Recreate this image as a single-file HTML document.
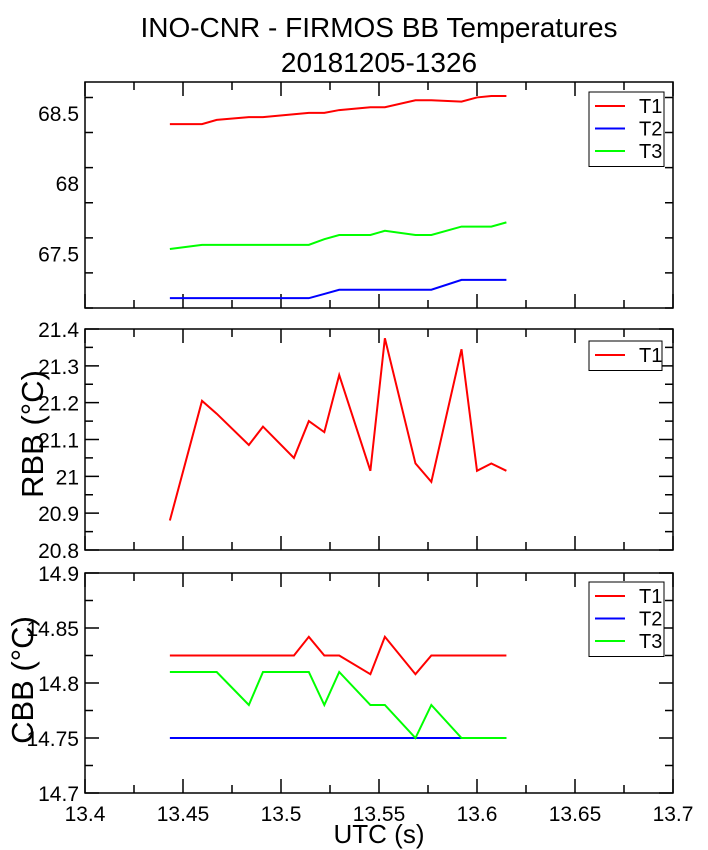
<!DOCTYPE html>
<html><head><meta charset="utf-8"><style>
body{margin:0;background:#fff}
svg{display:block;font-family:"Liberation Sans",sans-serif}
</style></head><body>
<svg id="c" width="708" height="850" xmlns="http://www.w3.org/2000/svg">
<text x="379" y="37" font-size="28" text-anchor="middle">INO-CNR - FIRMOS BB Temperatures</text>
<text x="379" y="72" font-size="28" text-anchor="middle">20181205-1326</text>
<text transform="translate(43,434) rotate(-90)" font-size="31" text-anchor="middle">RBB (°C)</text>
<text transform="translate(33,680) rotate(-90)" font-size="31" text-anchor="middle">CBB (°C)</text>
<text x="379" y="843" font-size="26" text-anchor="middle">UTC (s)</text>
</svg>
<script>
const times=[13.4433,13.4597,13.4672,13.4836,13.4908,13.5066,13.5142,13.5221,13.5297,13.5456,13.5530,13.5686,13.5767,13.5921,13.6,13.6073,13.615];
const bbT1=[68.42,68.42,68.45,68.47,68.47,68.49,68.50,68.50,68.52,68.54,68.54,68.59,68.59,68.58,68.61,68.62,68.62];
const bbT2=[67.18,67.18,67.18,67.18,67.18,67.18,67.18,67.21,67.24,67.24,67.24,67.24,67.24,67.31,67.31,67.31,67.31];
const bbT3=[67.53,67.56,67.56,67.56,67.56,67.56,67.56,67.60,67.63,67.63,67.66,67.63,67.63,67.69,67.69,67.69,67.72];
const rbbT1=[20.88,21.205,21.17,21.085,21.135,21.05,21.15,21.12,21.275,21.015,21.375,21.035,20.985,21.345,21.015,21.035,21.015];
const cbbT1=[14.825,14.825,14.825,14.825,14.825,14.825,14.842,14.825,14.825,14.808,14.842,14.808,14.825,14.825,14.825,14.825,14.825];
const cbbT2=[14.75,14.75,14.75,14.75,14.75,14.75,14.75,14.75,14.75,14.75,14.75,14.75,14.75,14.75,14.75,14.75,14.75];
const cbbT3=[14.81,14.81,14.81,14.78,14.81,14.81,14.81,14.78,14.81,14.78,14.78,14.75,14.78,14.75,14.75,14.75,14.75];
const xTicks=[13.4,13.45,13.5,13.55,13.6,13.65,13.7];
const bbTicks=[67.5,68,68.5];
const rbbTicks=[20.8,20.9,21,21.1,21.2,21.3,21.4];
const cbbTicks=[14.7,14.75,14.8,14.85,14.9];

const svg=document.getElementById('c');
const NS='http://www.w3.org/2000/svg';
const X0=85,X1=673,XMIN=13.4,XMAX=13.7;
const xs=v=>X0+(v-XMIN)/(XMAX-XMIN)*(X1-X0);
function mk(t,a){const e=document.createElementNS(NS,t);for(const k in a)e.setAttribute(k,a[k]);svg.appendChild(e);return e;}

function panel(name,top,bot,ymin,ymax,ticks,minorStep,series,legend,showX){
  const ys=v=>bot-(v-ymin)/(ymax-ymin)*(bot-top);
  const f=mk('rect',{x:X0,y:top,width:X1-X0,height:bot-top,fill:'none',stroke:'#000','stroke-width':1.5});
  
  
  let d='';
  for(let i=0;i<=12;i++){const v=XMIN+i*0.025,x=xs(v),L=i%2?8:14;d+=`M${x} ${bot}v${-L}M${x} ${top}v${L}`;}
  const n=Math.round((ymax-ymin)/minorStep);
  for(let i=0;i<=n;i++){const v=ymin+i*minorStep,y=ys(v);const maj=ticks.some(t=>Math.abs(t-v)<1e-6);const L=maj?14:8;d+=`M${X0} ${y}h${L}M${X1} ${y}h${-L}`;}
  const tk=mk('path',{d:d,stroke:'#000','stroke-width':1.5,fill:'none'});
  
  
  ticks.forEach(t=>{const e=mk('text',{x:79,y:ys(t)+8,'font-size':21,'text-anchor':'end'});e.textContent=String(t);
    
    });
  if(showX){xTicks.forEach(t=>{const e=mk('text',{x:xs(t),y:bot+28,'font-size':21,'text-anchor':'middle'});e.textContent=String(t);
    
    });}
  series.forEach(s=>{const p=mk('polyline',{points:times.map((t,i)=>xs(t)+','+ys(s.v[i])).join(' '),fill:'none',stroke:s.c,'stroke-width':2});
    
    });
  const lh=legend.length*22.5+7;
  const lb=mk('rect',{x:589,y:legend.top,width:legend.w,height:lh,fill:'#fff',stroke:'#000','stroke-width':1});
  
  
  series.forEach((s,i)=>{const y=legend.top+14+i*22.5;
    const l=mk('line',{x1:595,x2:625,y1:y,y2:y,stroke:s.c,'stroke-width':2});
    
    
    const t=mk('text',{x:639,y:y+7,'font-size':20});t.textContent=s.n;
    
    });
}
panel('bb-panel',82,308,67.11,68.72,bbTicks,0.25,[{n:'T1',c:'#f00',v:bbT1},{n:'T2',c:'#00f',v:bbT2},{n:'T3',c:'#0f0',v:bbT3}],{top:92,w:75,length:3},false);
panel('rbb-panel',329,550,20.8,21.4,rbbTicks,0.05,[{n:'T1',c:'#f00',v:rbbT1}],{top:341,w:73,length:1},false);
panel('cbb-panel',573,793,14.7,14.9,cbbTicks,0.025,[{n:'T1',c:'#f00',v:cbbT1},{n:'T2',c:'#00f',v:cbbT2},{n:'T3',c:'#0f0',v:cbbT3}],{top:582,w:75,length:3},true);
</script>
</body></html>
